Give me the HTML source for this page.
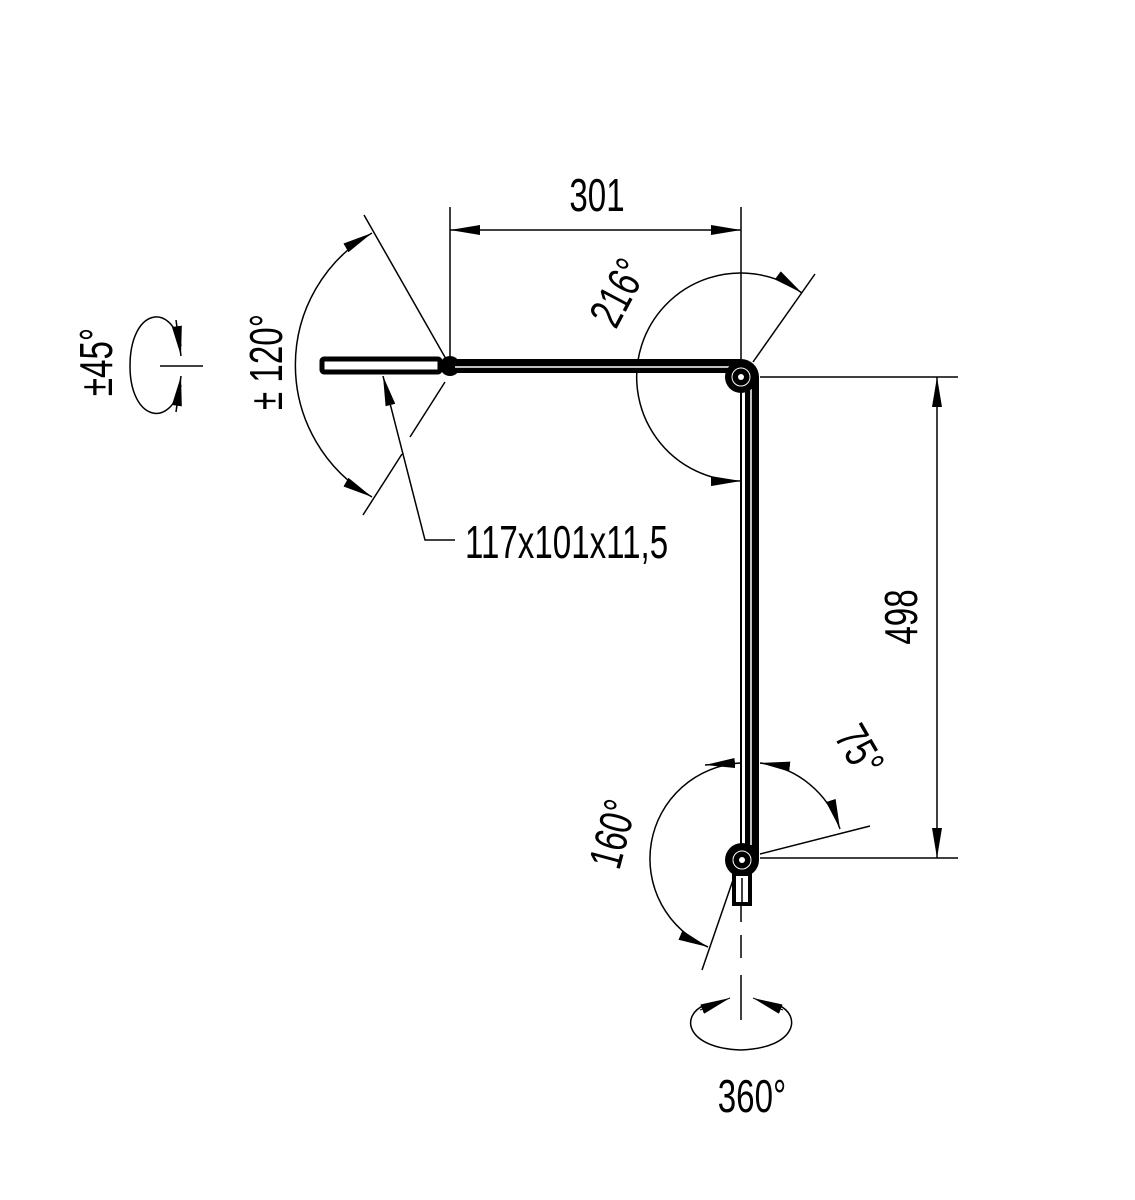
<!DOCTYPE html>
<html><head><style>html,body{margin:0;padding:0;background:#fff}svg{display:block}text{font-family:"Liberation Sans",sans-serif;font-size:46px;fill:#000}</style></head>
<body>
<svg width="1135" height="1200" viewBox="0 0 1135 1200" xmlns="http://www.w3.org/2000/svg">
<defs>
<marker id="a" viewBox="0 0 30 10" refX="30" refY="5" markerWidth="30" markerHeight="10" markerUnits="userSpaceOnUse" orient="auto"><path d="M0,0 L30,5 L0,10 Z" fill="#000"/></marker>
<marker id="b" viewBox="0 0 30 10" refX="0" refY="5" markerWidth="30" markerHeight="10" markerUnits="userSpaceOnUse" orient="auto"><path d="M30,0 L0,5 L30,10 Z" fill="#000"/></marker>
</defs>
<g stroke="#000" fill="none" stroke-width="1.5">
<line x1="450" y1="207" x2="450" y2="360"/>
<line x1="741" y1="207" x2="741" y2="500"/>
<line x1="450" y1="230" x2="741" y2="230" marker-start="url(#b)" marker-end="url(#a)"/>
<line x1="760" y1="377" x2="958" y2="377"/>
<line x1="760" y1="858" x2="958" y2="858"/>
<line x1="937" y1="377" x2="937" y2="858" marker-start="url(#b)" marker-end="url(#a)"/>
<line x1="753" y1="362" x2="815" y2="274"/>
<path d="M802,293 A104,104 0 1,0 741,481" marker-start="url(#b)" marker-end="url(#a)"/>
<line x1="450" y1="366" x2="364" y2="215"/>
<line x1="445" y1="382" x2="410" y2="437"/>
<line x1="402" y1="454" x2="363" y2="515"/>
<path d="M372,233 A152,152 0 0,0 372,497" marker-start="url(#b)" marker-end="url(#a)"/>
<path d="M181,346 C170,300 130,310 130,366 C130,420 170,430 181,385"/>
<path d="M176,320 L181,356" marker-end="url(#a)"/>
<path d="M176,412 L181,376" marker-end="url(#a)"/>
<line x1="160" y1="366" x2="203" y2="366"/>
<polyline points="383,376 425,540 455,540" marker-start="url(#b)"/>
<line x1="760" y1="854" x2="870" y2="826"/>
<path d="M760,763 A96,96 0 0,1 840,829" marker-start="url(#b)" marker-end="url(#a)"/>
<line x1="741" y1="740" x2="741" y2="840"/>
<line x1="733" y1="880" x2="702" y2="970"/>
<path d="M740,763 A96,96 0 0,0 708,947" marker-end="url(#a)"/>
<path d="M735,763 L705,765" marker-end="url(#a)"/>
<line x1="741" y1="905" x2="741" y2="922" />
<line x1="741" y1="935" x2="741" y2="958" />
<line x1="741" y1="975" x2="741" y2="1020" />
<path d="M705,1005 C680,1015 685,1048 741,1050 C797,1048 802,1015 778,1005"/>
<path d="M700,1010 L730,998" marker-end="url(#a)" stroke-width="1"/>
<path d="M783,1010 L753,998" marker-end="url(#a)" stroke-width="1"/>
</g>
<rect x="322" y="359" width="118" height="13" rx="2" fill="#fff" stroke="#000" stroke-width="5"/>
<circle cx="450" cy="366" r="10" fill="#000"/>
<path d="M450,359 L741,359 A18,18 0 0,1 759,377 L759,860 L745,860 L745,373 L450,373 Z" fill="#000"/>
<line x1="455" y1="367" x2="735" y2="367" stroke="#fff" stroke-width="1.5"/>
<line x1="751" y1="385" x2="751" y2="845" stroke="#fff" stroke-width="1.5"/>
<line x1="741" y1="390" x2="741" y2="845" stroke="#000" stroke-width="2"/>
<circle cx="741" cy="377" r="16" fill="#000"/>
<circle cx="741" cy="377" r="9" fill="#000" stroke="#fff" stroke-width="1"/>
<circle cx="741" cy="377" r="3" fill="#fff"/>
<circle cx="742" cy="860" r="17" fill="#000"/>
<circle cx="742" cy="860" r="9" fill="#000" stroke="#fff" stroke-width="1"/>
<circle cx="742" cy="860" r="3" fill="#fff"/>
<rect x="734" y="874" width="16" height="30" fill="#fff" stroke="#000" stroke-width="4"/>
<line x1="742" y1="878" x2="742" y2="902" stroke="#000" stroke-width="1.5"/>
<text transform="translate(597,211) scale(0.72,1)" text-anchor="middle">301</text>
<text transform="translate(917,617) rotate(-90) scale(0.72,1)" text-anchor="middle">498</text>
<text transform="translate(632,300) rotate(-62) scale(0.72,1)" text-anchor="middle">216°</text>
<text transform="translate(282,362) rotate(-90) scale(0.72,1)" text-anchor="middle">± 120°</text>
<text transform="translate(112,362) rotate(-90) scale(0.72,1)" text-anchor="middle">±45°</text>
<text transform="translate(465,558) scale(0.72,1)">117x101x11,5</text>
<text transform="translate(846,758) rotate(60) scale(0.72,1)" text-anchor="middle">75°</text>
<text transform="translate(628,838) rotate(-75) scale(0.72,1)" text-anchor="middle">160°</text>
<text transform="translate(752,1112) scale(0.72,1)" text-anchor="middle">360°</text>
</svg>
</body></html>
